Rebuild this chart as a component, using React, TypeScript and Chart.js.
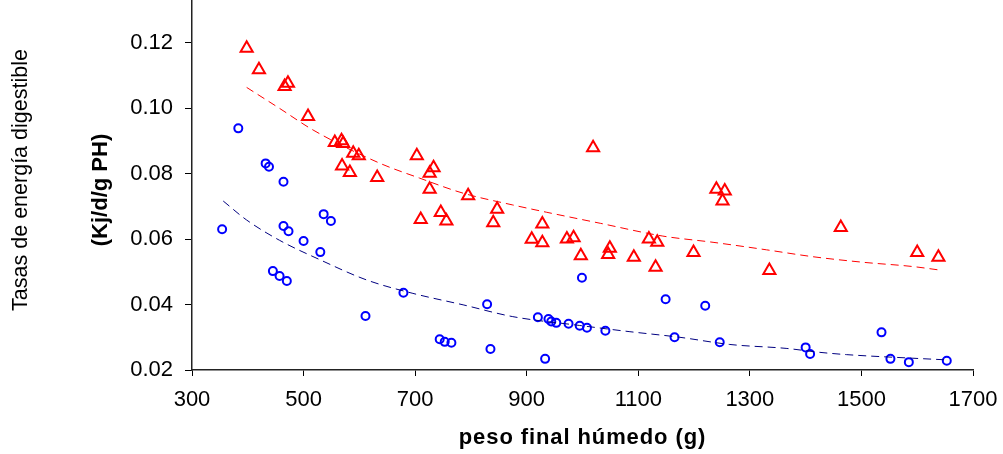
import React, { useEffect, useRef } from "react";
import { Chart, registerables } from "chart.js";

Chart.register(...registerables);

// Red triangles (x: peso final húmedo g, y: tasa)
const redX = [398, 420, 472, 466, 508, 556, 568, 571, 589, 599, 569, 583, 632, 703, 733, 726, 726, 795, 847, 710, 746, 756, 840, 928, 909, 928, 972, 984, 997, 1019, 1240, 1255, 1251, 1463, 1119, 1134, 1049, 1046, 1092, 1131, 1199, 1335, 1600, 1638];
const redY = [0.1183, 0.1117, 0.1076, 0.1066, 0.0974, 0.0895, 0.0900, 0.0892, 0.0862, 0.0854, 0.0823, 0.0803, 0.0788, 0.0854, 0.0818, 0.0801, 0.0752, 0.0732, 0.0691, 0.0660, 0.0681, 0.0655, 0.0650, 0.0646, 0.0599, 0.0589, 0.0600, 0.0604, 0.0549, 0.0879, 0.0752, 0.0747, 0.0716, 0.0635, 0.0600, 0.0590, 0.0572, 0.0553, 0.0544, 0.0514, 0.0559, 0.0504, 0.0559, 0.0544];

// Blue circles
const blueX = [383, 432, 438, 464, 354, 536, 549, 464, 473, 500, 530, 445, 457, 470, 611, 679, 744, 753, 765, 829, 835, 920, 939, 944, 953, 933, 975, 995, 1008, 999, 1041, 1149, 1220, 1165, 1246, 1400, 1408, 1536, 1552, 1585, 1653];
const blueY = [0.0938, 0.0831, 0.0821, 0.0775, 0.0630, 0.0676, 0.0655, 0.0640, 0.0624, 0.0594, 0.0560, 0.0502, 0.0487, 0.0472, 0.0365, 0.0436, 0.0294, 0.0286, 0.0283, 0.0401, 0.0264, 0.0361, 0.0356, 0.0348, 0.0344, 0.0234, 0.0341, 0.0335, 0.0329, 0.0482, 0.0320, 0.0416, 0.0396, 0.0300, 0.0285, 0.0269, 0.0249, 0.0315, 0.0234, 0.0224, 0.0228];

// Dashed trend lines
const redTrendX = [398, 457, 517, 636, 708, 786, 875, 935, 1032, 1144, 1234, 1330, 1413, 1503, 1592, 1637];
const redTrendY = [0.1063, 0.0999, 0.0933, 0.0832, 0.0786, 0.0740, 0.0704, 0.0682, 0.0648, 0.0609, 0.0590, 0.0567, 0.0546, 0.0529, 0.0516, 0.0506];
const blueTrendX = [356, 398, 457, 529, 613, 696, 786, 875, 995, 1085, 1174, 1264, 1365, 1425, 1473, 1592, 1652];
const blueTrendY = [0.0716, 0.0658, 0.0596, 0.0537, 0.0475, 0.0434, 0.0399, 0.0363, 0.0336, 0.0317, 0.0300, 0.0278, 0.0266, 0.0254, 0.0247, 0.0236, 0.0231];

const yTickValues = [0.02, 0.04, 0.06, 0.08, 0.10, 0.12];
const xTickValues = [300, 500, 700, 900, 1100, 1300, 1500, 1700];
const xTitle = "peso final húmedo (g)";
const yTitle1 = "Tasas de energía digestible";
const yTitle2 = "(Kj/d/g PH)";

const FONT = '"Liberation Sans", Arial, sans-serif';

const toPts = (xs: number[], ys: number[]) => xs.map((x, i) => ({ x, y: ys[i] }));

const titlesPlugin = {
  id: "axisTitles",
  afterDraw(chart: any) {
    const ctx = chart.ctx;
    const ca = chart.chartArea;
    ctx.save();
    ctx.fillStyle = "#000";
    ctx.textAlign = "center";
    ctx.textBaseline = "alphabetic";
    ctx.font = `bold 22px ${FONT}`;
    try { (ctx as any).letterSpacing = "0.9px"; } catch (e) {}
    ctx.fillText(xTitle, (ca.left + ca.right) / 2, 444);
    try { (ctx as any).letterSpacing = "0px"; } catch (e) {}

    ctx.save();
    ctx.translate(27, 180);
    ctx.rotate(-Math.PI / 2);
    ctx.font = `21.5px ${FONT}`;
    ctx.fillText(yTitle1, 0, 0);
    ctx.restore();

    ctx.save();
    ctx.translate(107, 190);
    ctx.rotate(-Math.PI / 2);
    ctx.font = `bold 22px ${FONT}`;
    ctx.fillText(yTitle2, 0, 0);
    ctx.restore();

    ctx.restore();
  },
};

export default function App() {
  const ref = useRef<HTMLCanvasElement | null>(null);

  useEffect(() => {
    if (!ref.current) return;
    const chart = new Chart(ref.current, {
      type: "scatter",
      data: {
        datasets: [
          {
            label: "trend red",
            data: toPts(redTrendX, redTrendY),
            showLine: true,
            borderColor: "#FF0000",
            borderWidth: 1,
            borderDash: [8, 5],
            pointRadius: 0,
            cubicInterpolationMode: "monotone",
            fill: false,
          },
          {
            label: "trend blue",
            data: toPts(blueTrendX, blueTrendY),
            showLine: true,
            borderColor: "#000080",
            borderWidth: 1,
            borderDash: [8, 5],
            pointRadius: 0,
            cubicInterpolationMode: "monotone",
            fill: false,
          },
          {
            label: "red",
            data: toPts(redX, redY),
            pointStyle: "triangle",
            pointRadius: 7,
            pointBorderWidth: 2,
            pointBorderColor: "#FF0000",
            pointBackgroundColor: "rgba(255,255,255,0)",
            borderColor: "#FF0000",
          },
          {
            label: "blue",
            data: toPts(blueX, blueY),
            pointStyle: "circle",
            pointRadius: 4,
            pointBorderWidth: 2,
            pointBorderColor: "#0000FF",
            pointBackgroundColor: "rgba(255,255,255,0)",
            borderColor: "#0000FF",
          },
        ],
      },
      options: {
        responsive: false,
        animation: false,
        devicePixelRatio: 1,
        layout: { autoPadding: false, padding: { top: 0, right: 30, left: 0, bottom: 0 } },
        plugins: {
          legend: { display: false },
          tooltip: { enabled: false },
          title: { display: false },
        },
        scales: {
          x: {
            type: "linear",
            min: 300,
            max: 1700,
            afterBuildTicks: (s: any) => {
              s.ticks = xTickValues.map((v) => ({ value: v }));
            },
            ticks: {
              color: "#000",
              font: { family: FONT, size: 22 },
              padding: 11,
              maxRotation: 0,
              autoSkip: false,
              callback: (v: any) => String(v),
            },
            grid: {
              drawOnChartArea: false,
              drawTicks: true,
              tickLength: 6,
              color: "#000",
              lineWidth: 1,
            },
            border: { display: true, color: "#222", width: 1.5 },
            afterFit: (s: any) => {
              s.height = 84;
              s.paddingLeft = 0;
              s.paddingRight = 0;
            },
          },
          y: {
            type: "linear",
            min: 0.02,
            max: 0.133,
            afterBuildTicks: (s: any) => {
              s.ticks = yTickValues.map((v) => ({ value: v }));
            },
            ticks: {
              color: "#000",
              font: { family: FONT, size: 22 },
              padding: 12,
              callback: (v: any) => Number(v).toFixed(2),
            },
            grid: {
              drawOnChartArea: false,
              drawTicks: true,
              tickLength: 7,
              color: "#000",
              lineWidth: 1,
            },
            border: { display: true, color: "#222", width: 1.5 },
            afterFit: (s: any) => {
              s.width = 192;
              s.paddingTop = 0;
              s.paddingBottom = 0;
            },
          },
        },
      },
      plugins: [titlesPlugin],
    });
    return () => chart.destroy();
  }, []);

  return (
    <div style={{ position: "fixed", left: 0, top: 0, width: 1003, height: 454, background: "#fff" }}>
      <canvas ref={ref} width={1003} height={454} style={{ width: 1003, height: 454, display: "block" }} />
    </div>
  );
}
